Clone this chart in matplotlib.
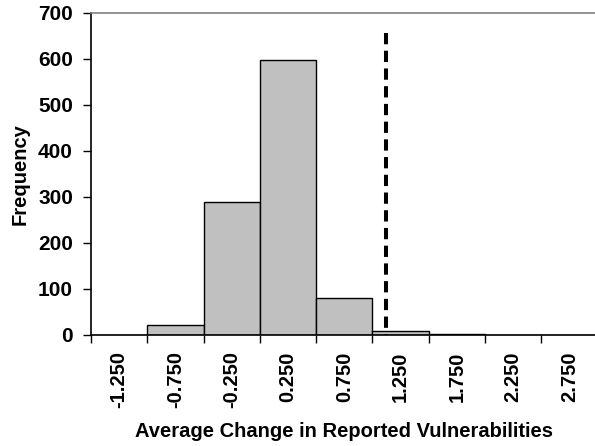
import matplotlib.pyplot as plt
import numpy as np

plt.rcParams['font.family'] = ['Liberation Sans', 'DejaVu Sans']
plt.rcParams['font.weight'] = 'bold'

# histogram bins (category labels) and counts
bin_labels = ['-1.250', '-0.750', '-0.250', '0.250', '0.750',
              '1.250', '1.750', '2.250', '2.750']
counts = [0, 21, 289, 598, 80, 7, 2, 0, 0]

# observed value marker (in bin units) and its height
marker_x = 4.74
marker_top = 656

fig = plt.figure(figsize=(5.95, 4.46), dpi=100)
ax = fig.add_axes([91 / 595, 1 - 334.7 / 446, (597.6 - 91) / 595, (334.7 - 13) / 446])

x = np.arange(len(bin_labels))
ax.bar(x, counts, width=1.0, color='#c0c0c0', edgecolor='black', linewidth=1.0, zorder=2)

# drawn top-down so the dash pattern starts with a full dash at the top
ax.plot([marker_x, marker_x], [marker_top, 0], color='black', linestyle=(0, (2.8, 1.6)),
        linewidth=2.9, zorder=3)

ax.set_xlim(-0.5, len(bin_labels) - 0.5)
ax.set_ylim(0, 700)
ax.set_yticks(np.arange(0, 701, 100))

# ticks at bin boundaries, labels centered in bins
ax.set_xticks(np.arange(len(bin_labels) + 1) - 0.5)
ax.set_xticklabels([])
ax.set_xticks(x, minor=True)
ax.set_xticklabels(bin_labels, minor=True, rotation=90, fontsize=14.5, fontweight='bold')
ax.tick_params(axis='x', which='minor', length=0, pad=12)
ax.tick_params(axis='x', which='major', length=6, width=1, direction='out')
ax.tick_params(axis='y', length=6, width=1, direction='out', labelsize=15, pad=7)

ax.spines['right'].set_visible(False)
ax.spines['top'].set_color('#808080')
ax.spines['top'].set_linewidth(1.2)
ax.spines['left'].set_linewidth(1.2)
ax.spines['bottom'].set_linewidth(1.2)

ax.set_ylabel('Frequency', fontsize=14.5, fontweight='bold', labelpad=6)
ax.set_xlabel('Average Change in Reported Vulnerabilities', fontsize=14.5, fontweight='bold', labelpad=10)

fig.savefig('out.png', dpi=100)
